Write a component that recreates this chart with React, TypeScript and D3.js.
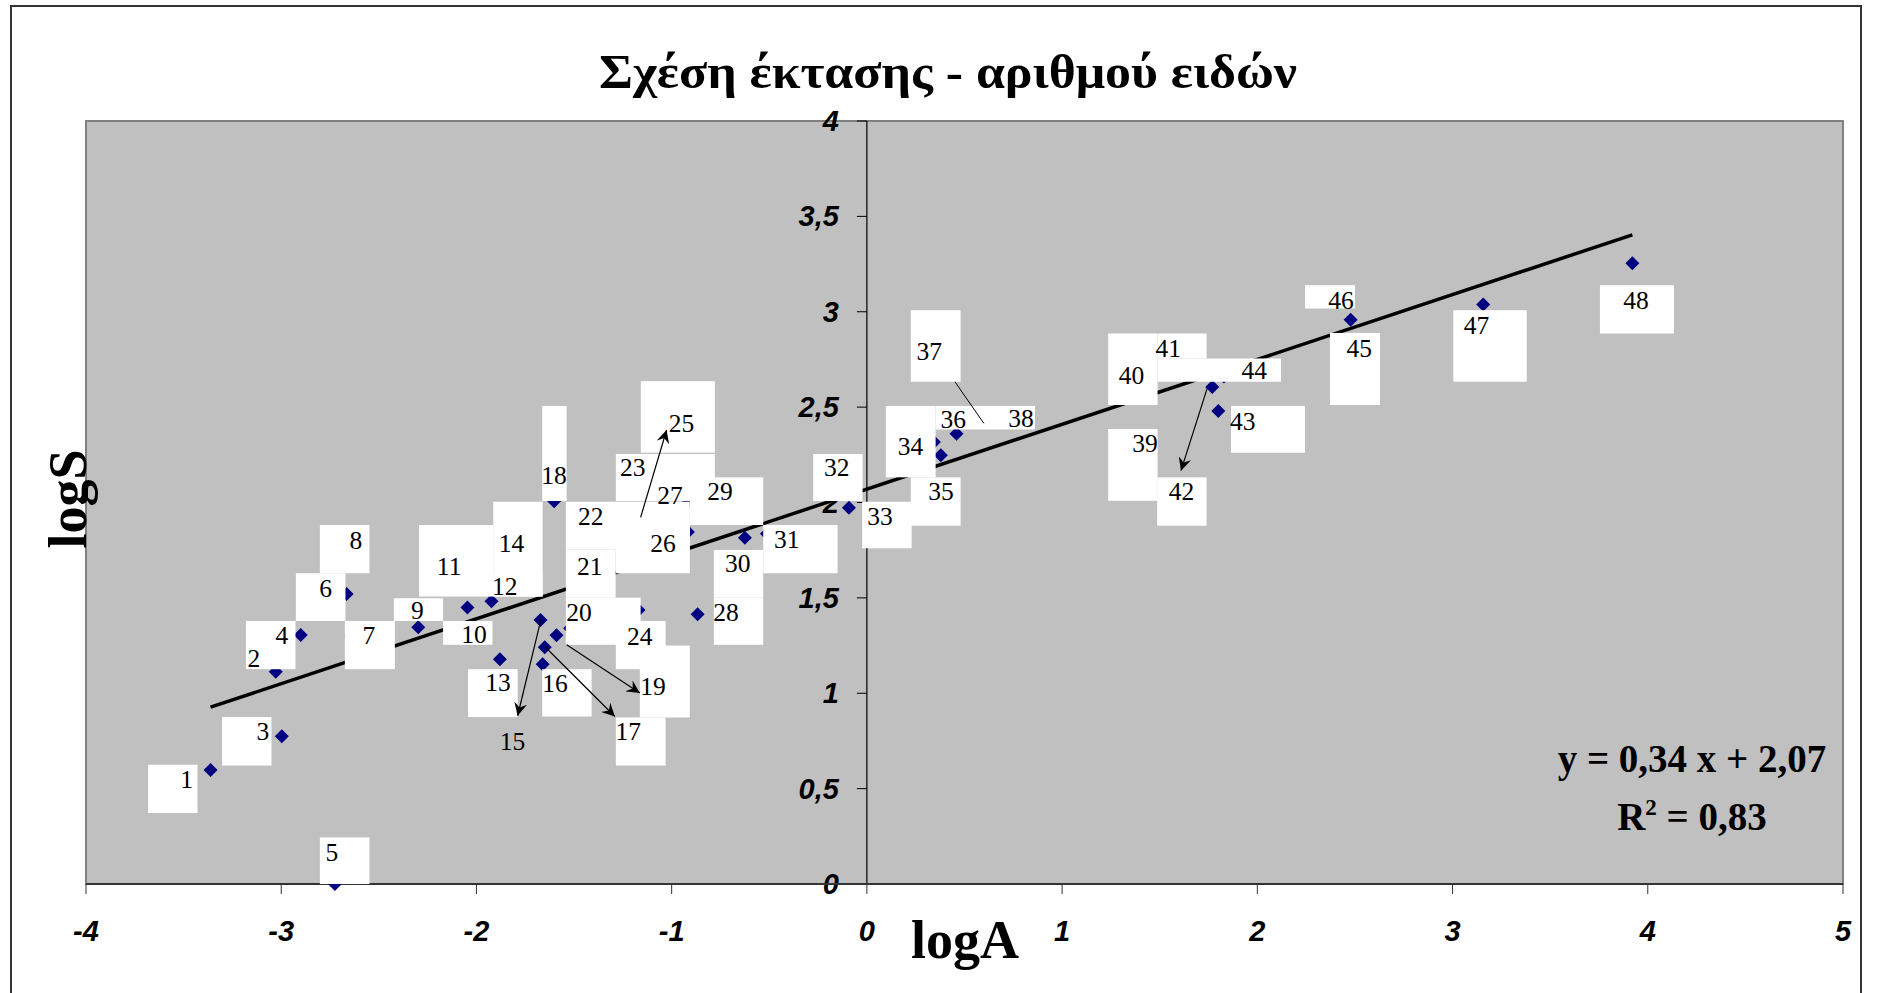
import React from 'react';
import * as d3 from 'd3';

const W = 1879;
const H = 993;

const chartTitle = 'Σχέση έκτασης - αριθμού ειδών';
const xTitle = 'logA';
const yTitle = 'logS';
const eqLine1 = 'y = 0,34 x + 2,07';
const eqR2 = '= 0,83';
const slope = 0.34;
const intercept = 2.07;

const xTicks = [-4, -3, -2, -1, 0, 1, 2, 3, 4, 5];
const yTicks = [0, 0.5, 1, 1.5, 2, 2.5, 3, 3.5, 4];

const pointIds = [1, 2, 3, 4, 5, 6, 7, 8, 9, 10, 11, 12, 13, 14, 15, 16, 17, 18, 19, 20, 21, 22, 23, 24,
  25, 26, 27, 28, 29, 30, 31, 32, 33, 34, 35, 36, 37, 38, 39, 40, 41, 42, 43, 44, 45, 46, 47, 48];
const logA = [-3.362, -3.028, -2.997, -2.9, -2.725, -2.665, -2.64, -2.67, -2.298, -2.046, -2.0, -1.923,
  -1.88, -1.76, -1.672, -1.661, -1.65, -1.602, -1.59, -1.52, -1.42, -1.35, -1.05, -1.17,
  -1.16, -0.917, -0.917, -0.867, -0.75, -0.625, -0.512, -0.15, -0.092, 0.343, 0.379, 0.459,
  0.6, 0.75, 1.4, 1.4, 1.65, 1.769, 1.8, 1.829, 2.5, 2.478, 3.157, 3.921];
const logS = [0.598, 1.113, 0.775, 1.305, 0.0, 1.52, 1.3, 1.72, 1.346, 1.45, 1.64, 1.482,
  1.178, 1.62, 1.384, 1.152, 1.241, 2.007, 1.304, 1.341, 1.6, 1.85, 2.1, 1.437,
  1.86, 1.846, 1.997, 1.414, 1.98, 1.815, 1.836, 2.06, 1.972, 2.317, 2.248, 2.361,
  2.42, 2.45, 2.2, 2.6, 2.7, 2.605, 2.48, 2.66, 2.7, 2.958, 3.038, 3.254];

// white label boxes, in data units: [id, left, top, right, bottom]
const labelBoxes: number[][] = [
  [1, -3.682, 0.625, -3.429, 0.372],
  [2, -3.181, 1.379, -2.927, 1.126],
  [3, -3.303, 0.875, -3.05, 0.621],
  [5, -2.802, 0.244, -2.548, 0.0],
  [6, -2.925, 1.629, -2.671, 1.379],
  [7, -2.674, 1.379, -2.418, 1.126],
  [8, -2.802, 1.882, -2.548, 1.629],
  [9, -2.423, 1.498, -2.171, 1.379],
  [10, -2.171, 1.379, -1.918, 1.254],
  [11, -2.294, 1.882, -1.914, 1.507],
  [12, -1.914, 1.631, -1.661, 1.507],
  [13, -2.043, 1.126, -1.789, 0.875],
  [14, -1.914, 2.004, -1.661, 1.507],
  [16, -1.663, 1.126, -1.41, 0.878],
  [17, -1.286, 0.873, -1.031, 0.621],
  [18, -1.663, 2.506, -1.538, 2.008],
  [19, -1.163, 1.25, -0.907, 0.873],
  [20, -1.542, 1.501, -1.159, 1.254],
  [21, -1.542, 1.753, -1.287, 1.501],
  [22, -1.542, 2.004, -0.907, 1.753],
  [23, -1.286, 2.254, -0.779, 2.008],
  [24, -1.286, 1.379, -1.031, 1.126],
  [25, -1.158, 2.636, -0.779, 2.261],
  [26, -1.287, 1.882, -0.907, 1.629],
  [28, -0.784, 1.501, -0.531, 1.254],
  [29, -0.907, 2.132, -0.531, 1.882],
  [30, -0.784, 1.751, -0.531, 1.501],
  [31, -0.531, 1.882, -0.15, 1.629],
  [32, -0.275, 2.254, -0.022, 2.008],
  [33, -0.024, 2.004, 0.229, 1.76],
  [34, 0.097, 2.506, 0.352, 2.132],
  [35, 0.225, 2.132, 0.48, 1.878],
  [36, 0.352, 2.506, 0.605, 2.383],
  [37, 0.225, 3.008, 0.48, 2.633],
  [38, 0.605, 2.506, 0.861, 2.383],
  [39, 1.236, 2.385, 1.489, 2.009],
  [40, 1.236, 2.886, 1.489, 2.511],
  [41, 1.489, 2.886, 1.74, 2.755],
  [42, 1.487, 2.132, 1.74, 1.878],
  [43, 1.865, 2.506, 2.244, 2.261],
  [44, 1.489, 2.755, 2.121, 2.633],
  [45, 2.372, 2.889, 2.628, 2.511],
  [46, 2.244, 3.139, 2.5, 3.017],
  [47, 3.004, 3.008, 3.38, 2.633],
  [48, 3.755, 3.139, 4.134, 2.886],
];

// label text centres, in data units: [id, x, y]
const labelTexts: number[][] = [
  [1, -3.484, 0.547], [2, -3.14, 1.18], [3, -3.094, 0.798], [4, -2.997, 1.302],
  [5, -2.741, 0.166], [6, -2.772, 1.547], [7, -2.551, 1.301], [8, -2.618, 1.8],
  [9, -2.302, 1.432], [10, -2.013, 1.306], [11, -2.14, 1.664], [12, -1.855, 1.559],
  [13, -1.89, 1.054], [14, -1.82, 1.786], [15, -1.815, 0.747], [16, -1.598, 1.049],
  [17, -1.223, 0.799], [18, -1.603, 2.144], [19, -1.095, 1.035], [20, -1.475, 1.425],
  [21, -1.419, 1.664], [22, -1.415, 1.929], [23, -1.199, 2.181], [24, -1.163, 1.297],
  [25, -0.949, 2.415], [26, -1.044, 1.786], [27, -1.009, 2.039], [28, -0.722, 1.425],
  [29, -0.753, 2.057], [30, -0.661, 1.678], [31, -0.411, 1.804], [32, -0.155, 2.184],
  [33, 0.067, 1.929], [34, 0.224, 2.292], [35, 0.379, 2.057], [36, 0.442, 2.436],
  [37, 0.319, 2.794], [38, 0.789, 2.441], [39, 1.424, 2.31], [40, 1.356, 2.668],
  [41, 1.544, 2.808], [42, 1.612, 2.057], [43, 1.925, 2.427], [44, 1.984, 2.694],
  [45, 2.522, 2.808], [46, 2.428, 3.061], [47, 3.123, 2.93], [48, 3.94, 3.057],
];

// arrows (data units): [x1, y1, x2, y2]
const arrows: number[][] = [
  [-1.67, 1.385, -1.789, 0.882],
  [-1.65, 1.245, -1.291, 0.878],
  [-1.538, 1.254, -1.163, 1.001],
  [-1.159, 1.922, -1.026, 2.38],
  [1.743, 2.598, 1.609, 2.167],
];
const leaderLines: number[][] = [[0.451, 2.633, 0.599, 2.415]];

export default function App() {
  const x = d3.scaleLinear().domain([-4, 5]).range([86, 1843]);
  const y = d3.scaleLinear().domain([0, 4]).range([884, 121]);
  const x0 = x(-4), x1 = x(5), yTop = y(4), yBot = y(0);

  const pts = pointIds.map((id, i) => ({ id, a: logA[i], s: logS[i] }));
  const trendX = [d3.min(logA) as number, d3.max(logA) as number];
  const trend = d3.line<number>().x((d) => x(d)).y((d) => y(slope * d + intercept));
  const diamond = d3.symbol().type(d3.symbolDiamond2).size(125)();

  const tickFont = { fontFamily: '"Liberation Sans", Arial, sans-serif', fontWeight: 700, fontStyle: 'italic', fontSize: 29 } as const;
  const serif = '"Liberation Serif", "Times New Roman", serif';

  return (
    <svg width={W} height={H} style={{ position: 'absolute', left: 0, top: 0, background: '#fff' }}>
      <defs>
        <marker id="arr" viewBox="0 0 10 10" refX="10" refY="5" markerWidth="13" markerHeight="13"
          markerUnits="userSpaceOnUse" orient="auto">
          <path d="M0,0 L10,5 L0,10 L3.5,5 z" fill="#000" />
        </marker>
        <clipPath id="plotClip">
          <rect x={x0} y={yTop} width={x1 - x0} height={yBot - yTop + 1} />
        </clipPath>
      </defs>
      <rect x={0} y={0} width={W} height={H} fill="#fff" />
      {/* outer chart frame */}
      <path d={`M11,${H} L11,6 L1861,6 L1861,${H}`} fill="none" stroke="#333" strokeWidth={2} />

      <text x={948} y={88} textAnchor="middle" fontFamily={serif} fontWeight={700} fontSize={48}
        textLength={698} lengthAdjust="spacingAndGlyphs">{chartTitle}</text>

      {/* plot area */}
      <rect x={x0} y={yTop} width={x1 - x0} height={yBot - yTop} fill="#c0c0c0" stroke="#808080" strokeWidth={2} />

      {/* y axis at x = 0 */}
      <line x1={x(0)} x2={x(0)} y1={yTop} y2={yBot} stroke="#000" strokeWidth={1.2} />
      {yTicks.map((t) => (
        <g key={`yt${t}`}>
          <line x1={x(0) - 10} x2={x(0)} y1={y(t)} y2={y(t)} stroke="#000" strokeWidth={1} />
          <text x={x(0) - 28} y={y(t) + 10} textAnchor="end" {...tickFont}>{String(t).replace('.', ',')}</text>
        </g>
      ))}
      {/* x axis at y = 0 */}
      <line x1={x0} x2={x1} y1={yBot} y2={yBot} stroke="#333" strokeWidth={2} />
      {xTicks.map((t) => (
        <g key={`xt${t}`}>
          <line x1={x(t)} x2={x(t)} y1={yBot} y2={yBot + 10} stroke="#333" strokeWidth={1} />
          <text x={x(t)} y={yBot + 57} textAnchor="middle" {...tickFont}>{String(t)}</text>
        </g>
      ))}

      <path d={trend(trendX) || ''} fill="none" stroke="#000" strokeWidth={3.5} />
      {pts.map((p) => (
        <path key={`p${p.id}`} d={diamond || ''} transform={`translate(${x(p.a)},${y(p.s)})`} fill="#000080" />
      ))}
      <g clipPath="url(#plotClip)">
        {labelBoxes.map(([id, l, t, r, b]) => (
          <rect key={`b${id}`} x={x(l)} y={y(t)} width={x(r) - x(l)} height={y(b) - y(t)} fill="#fff" />
        ))}
      </g>
      {labelTexts.map(([id, lx, ly]) => (
        <text key={`t${id}`} x={x(lx)} y={y(ly) + 8.5} textAnchor="middle" fontFamily={serif} fontSize={25.5} fill="#000">{id}</text>
      ))}
      {leaderLines.map(([a1, b1, a2, b2], i) => (
        <line key={`ll${i}`} x1={x(a1)} y1={y(b1)} x2={x(a2)} y2={y(b2)} stroke="#000" strokeWidth={1} />
      ))}
      {arrows.map(([a1, b1, a2, b2], i) => (
        <line key={`ar${i}`} x1={x(a1)} y1={y(b1)} x2={x(a2)} y2={y(b2)} stroke="#000" strokeWidth={1.2} markerEnd="url(#arr)" />
      ))}

      {/* regression equation */}
      <text x={1692} y={772} textAnchor="middle" fontFamily={serif} fontWeight={700} fontSize={39}>{eqLine1}</text>
      <text x={1692} y={830} textAnchor="middle" fontFamily={serif} fontWeight={700} fontSize={39}>
        R<tspan dy={-15} fontSize={23}>2</tspan><tspan dy={15}> {eqR2}</tspan>
      </text>

      {/* axis titles */}
      <text x={965} y={958} textAnchor="middle" fontFamily={serif} fontWeight={700} fontSize={54}>{xTitle}</text>
      <text transform={`translate(86,${499}) rotate(-90)`} textAnchor="middle" fontFamily={serif} fontWeight={700} fontSize={54}>{yTitle}</text>
    </svg>
  );
}
